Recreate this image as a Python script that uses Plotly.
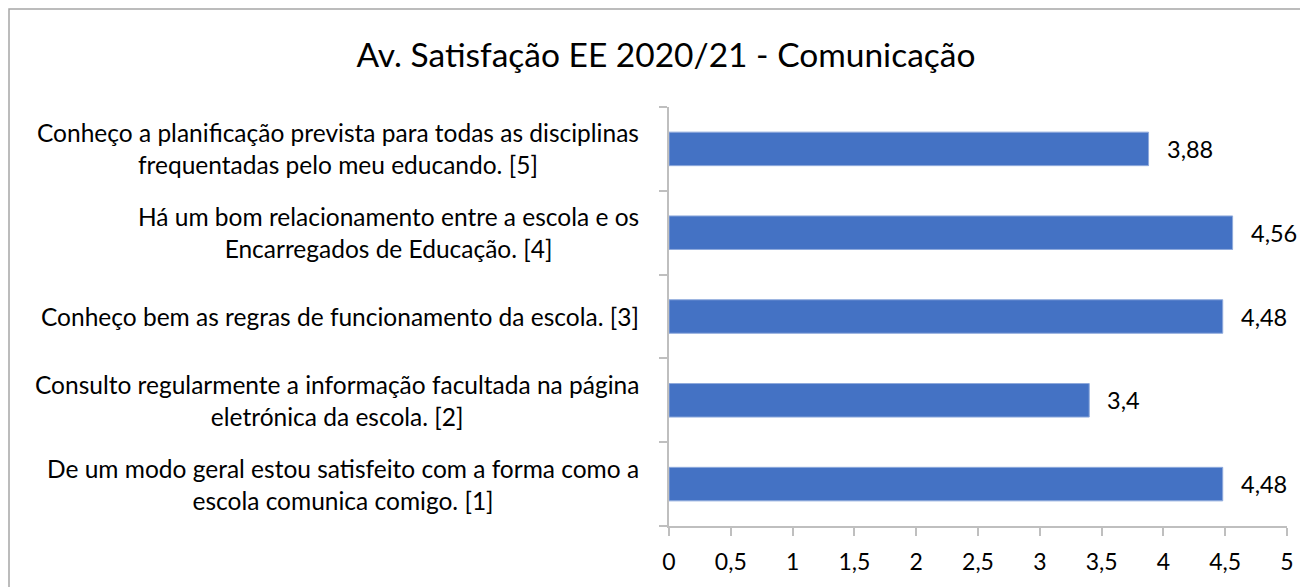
import plotly.graph_objects as go

# Dados (de baixo para cima, como no Excel)
perguntas = [
    "De um modo geral estou satisfeito com a forma como a<br>escola comunica comigo. [1]",
    "Consulto regularmente a informação facultada na página<br>eletrónica da escola. [2]",
    "Conheço bem as regras de funcionamento da escola. [3]",
    "Há um bom relacionamento entre a escola e os<br>Encarregados de Educação. [4]",
    "Conheço a planificação prevista para todas as disciplinas<br>frequentadas pelo meu educando. [5]",
]
medias = [4.48, 3.4, 4.48, 4.56, 3.88]
titulo = "Av. Satisfação EE 2020/21 - Comunicação"

# a página tem 8px de margem no body, por isso a figura é um pouco menor
W, H = 1300, 579
ML, MR, MT, MB = 661, 21, 99, 61
FONT = "Lato"
AXIS_GREY = "#bfbfbf"
BAR_BLUE = "#4472c4"

fig = go.Figure()
fig.add_trace(go.Bar(
    x=medias,
    y=perguntas,
    orientation="h",
    marker=dict(color=BAR_BLUE, line=dict(color="#8faadc", width=1)),
    hoverinfo="x+y",
))

# rótulos das categorias (centrados entre linhas, como no Excel)
for p in perguntas:
    fig.add_annotation(x=0, xref="paper", y=p, yref="y", text=p, showarrow=False,
                       xanchor="right", xshift=-28, align="center",
                       font=dict(family=FONT, size=24.5, color="#000000"))

# rótulos de dados com vírgula decimal
for p, v in zip(perguntas, medias):
    fig.add_annotation(x=v, y=p, text=f"{v:g}".replace(".", ","), showarrow=False,
                       xanchor="left", xshift=16,
                       font=dict(family=FONT, size=23.5, color="#000000"))

# moldura da área do gráfico (só se vê o topo e o lado esquerdo)
pw = W - ML - MR
ph = H - MT - MB
fig.add_shape(type="rect", xref="paper", yref="paper",
              x0=(1 - ML) / pw, x1=(W + 30 - ML) / pw,
              y0=-(MB + 30) / ph, y1=(H - MB - 1) / ph,
              line=dict(color="#a6a6a6", width=1.5), fillcolor="rgba(0,0,0,0)", layer="below")

fig.update_layout(
    width=W, height=H,
    margin=dict(l=ML, r=MR, t=MT, b=MB),
    paper_bgcolor="white", plot_bgcolor="white",
    separators=",.",
    bargap=0.6,
    showlegend=False,
    title=dict(text=titulo, x=658 / W, xanchor="center", y=1 - 47 / H, yanchor="middle",
               yref="container", font=dict(family=FONT, size=33.5, color="#000000")),
    font=dict(family=FONT, color="#000000"),
)
fig.update_xaxes(range=[0, 5], dtick=0.5, tick0=0, showgrid=False, zeroline=False,
                 showline=True, linecolor=AXIS_GREY, linewidth=1.5,
                 ticks="outside", ticklen=8, tickcolor=AXIS_GREY, tickwidth=1.5,
                 ticklabelstandoff=7,
                 tickfont=dict(family=FONT, size=23, color="#000000"))
fig.update_yaxes(showgrid=False, zeroline=False, showline=True, linecolor=AXIS_GREY, linewidth=1.5,
                 ticks="outside", ticklen=8, tickcolor=AXIS_GREY, tickwidth=1.5,
                 tickson="boundaries", showticklabels=False)

fig.write_html("out.html")
